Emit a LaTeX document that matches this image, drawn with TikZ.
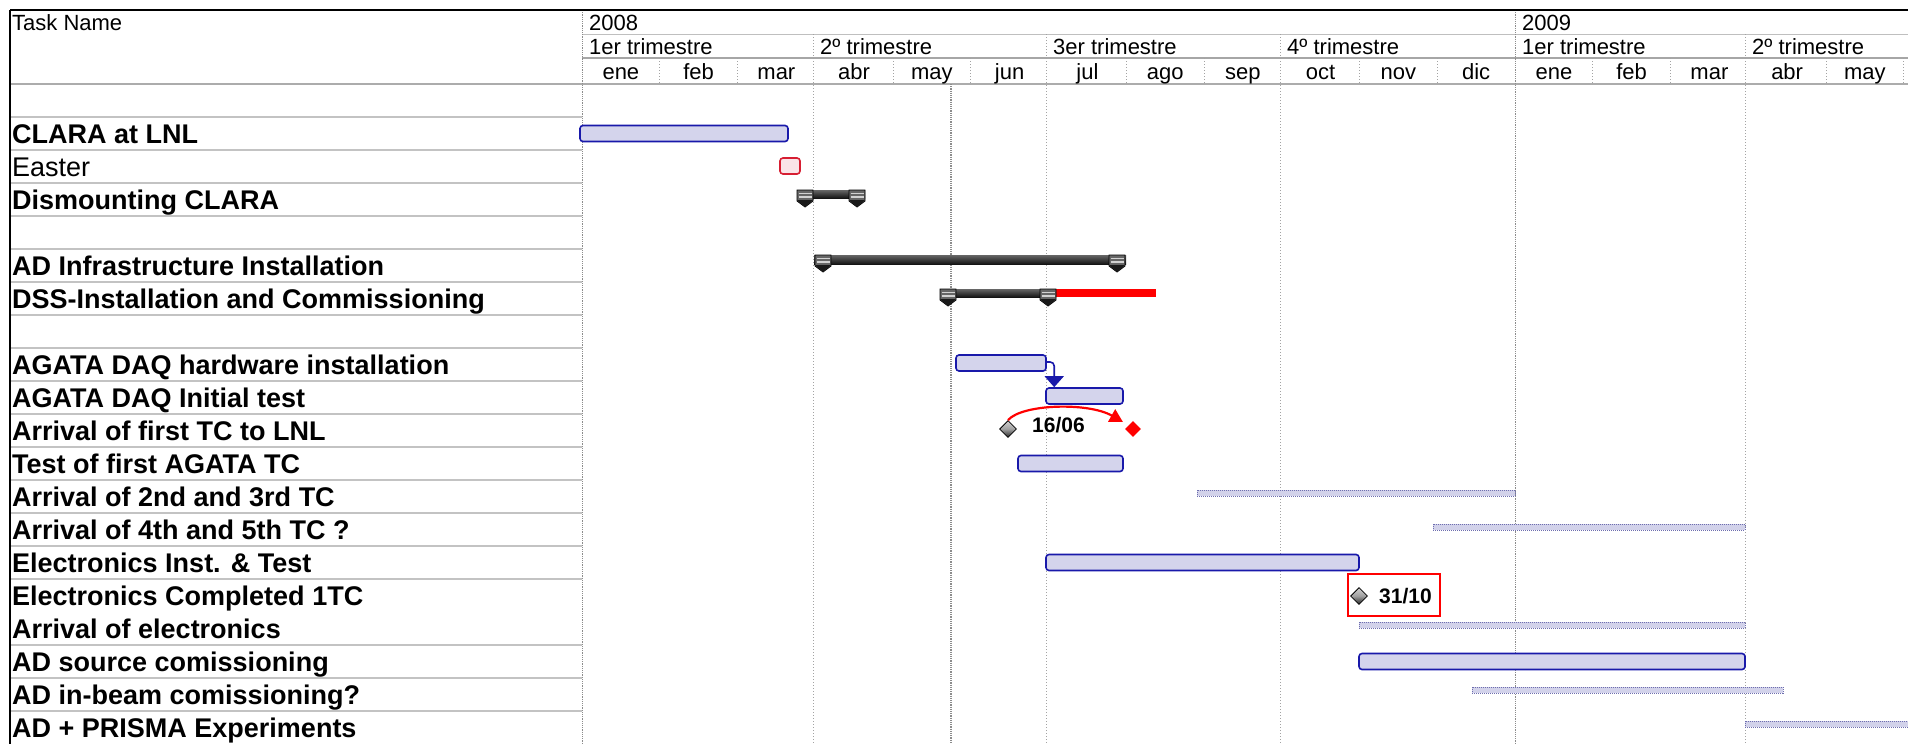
\documentclass[tikz,border=0pt]{standalone}
\usepackage{fontspec}
\setmainfont{Liberation Sans}
\usetikzlibrary{shapes.geometric,arrows.meta}
\definecolor{barblue}{RGB}{25,25,170}
\definecolor{barfill}{RGB}{212,212,236}
\definecolor{thinfill}{RGB}{210,210,234}
\definecolor{thindot}{RGB}{110,110,175}
\definecolor{gridgray}{RGB}{140,140,140}
\definecolor{sepgray}{RGB}{195,195,195}
\definecolor{redfill}{RGB}{250,228,232}
\definecolor{redline}{RGB}{215,30,50}
\begin{document}
\begin{tikzpicture}[x=1pt,y=-1pt,
  tname/.style={anchor=base west,inner sep=0pt,font=\fontsize{27}{30}\selectfont\bfseries},
  tnamereg/.style={anchor=base west,inner sep=0pt,font=\fontsize{27}{30}\selectfont},
  hdrl/.style={anchor=base west,inner sep=0pt,font=\fontsize{22}{24}\selectfont},
  hdrc/.style={anchor=base,inner sep=0pt,font=\fontsize{22}{24}\selectfont},
  griddense/.style={draw=gridgray,line width=1pt,dash pattern=on 1.2pt off 1pt},
  gridfine/.style={draw=gridgray!80,line width=0.7pt,dash pattern=on 1pt off 2pt},
  rowsep/.style={draw=sepgray,line width=1.2pt},
  taskbar/.style={draw=barblue,fill=barfill,line width=1.6pt,rounded corners=3pt,inner sep=0pt,minimum height=16pt},
  easterbar/.style={draw=redline,fill=redfill,line width=1.6pt,rounded corners=3pt,inner sep=0pt,minimum height=16pt,minimum width=20pt},
  thinbar/.style={fill=thinfill,draw=thindot,line width=0.8pt,dash pattern=on 1pt off 1pt,inner sep=0pt,minimum height=6pt},
  sumbar/.style={top color=black!60,bottom color=black!92,inner sep=0pt,minimum height=9pt},
  ms/.style={diamond,draw=black,line width=0.8pt,inner sep=0pt,minimum width=17pt,minimum height=17pt,top color=gray!35,bottom color=black!85,middle color=gray!75},
  msred/.style={diamond,fill=red,inner sep=0pt,minimum width=16pt,minimum height=16pt},
  mstext/.style={anchor=base west,inner sep=0pt,font=\fontsize{21}{24}\selectfont\bfseries},
  sumend/.pic={
    \filldraw[draw=black,line width=0.8pt,fill=black!60] (-8,0) -- (8,0) -- (8,11) -- (0,17) -- (-8,11) -- cycle;
    \fill[black!90] (-8,10) -- (8,10) -- (0,17) -- cycle;
    \draw[gray!35,line width=1.2pt] (-6.5,3.5) -- (6.5,3.5) (-6.5,7) -- (6.5,7);
  }
]
\useasboundingbox (0,0) rectangle (1908,744);
\fill[white] (0,0) rectangle (1908,744);

% ---------- header lines ----------
\draw[gray!50,line width=1pt] (582,34) -- (1908,34);
\draw[gray!70,line width=2pt] (582,58) -- (1908,58);
\draw[gray!65,line width=2.5pt] (10,84) -- (1908,84);

% ---------- row separators (task column) ----------
\foreach \k in {0,...,14,16,17,18}
  \draw[rowsep] (10,{117+33*\k}) -- (582,{117+33*\k});

% ---------- vertical grid ----------
\draw[griddense] (582,10) -- (582,744);
\draw[griddense] (1515,10) -- (1515,744);
\foreach \xx in {813,1046,1280,1745}
  \draw[gridfine] (\xx,34) -- (\xx,744);
\draw[griddense,line width=1.3pt] (951,84) -- (951,744);
\foreach \i in {1,2,4,5,7,8,10,11,13,14,16,17}
  \draw[gridfine] ({582+77.75*\i},58) -- ({582+77.75*\i},84);

% ---------- borders ----------
\draw[black,line width=2pt] (10,10) -- (1908,10);
\draw[black,line width=2pt] (10,10) -- (10,744);

% ---------- header texts ----------
\node[hdrl] (htask) at (12,30) {Task Name};
\node[hdrl] (y2008) at (589,30) {2008};
\node[hdrl] (y2009) at (1522,30) {2009};
\node[hdrl] (q1) at (589,54) {1er trimestre};
\node[hdrl] (q2) at (820,54) {2º trimestre};
\node[hdrl] (q3) at (1053,54) {3er trimestre};
\node[hdrl] (q4) at (1287,54) {4º trimestre};
\node[hdrl] (q5) at (1522,54) {1er trimestre};
\node[hdrl] (q6) at (1752,54) {2º trimestre};
\foreach \nm [count=\i from 0] in {ene,feb,mar,abr,may,jun,jul,ago,sep,oct,nov,dic,ene,feb,mar,abr,may}
  \node[hdrc] (mon\i) at ({582+77.75*(\i+0.5)},79) {\nm};

% ---------- task names ----------
\node[tname] (t0) at (12,143.5) {CLARA at LNL};
\node[tnamereg] (t1) at (12,176.5) {Easter};
\node[tname] (t2) at (12,209.5) {Dismounting CLARA};
\node[tname] (t4) at (12,275.5) {AD Infrastructure Installation};
\node[tname] (t5) at (12,308.5) {DSS-Installation and Commissioning};
\node[tname] (t7) at (12,374.5) {AGATA DAQ hardware installation};
\node[tname] (t8) at (12,407.5) {AGATA DAQ Initial test};
\node[tname] (t9) at (12,440.5) {Arrival of first TC to LNL};
\node[tname] (t10) at (12,473.5) {Test of first AGATA TC};
\node[tname] (t11) at (12,506.5) {Arrival of 2nd and 3rd TC};
\node[tname] (t12) at (12,539.5) {Arrival of 4th and 5th TC ?};
\node[tname] (t13) at (12,572.5) {Electronics Inst. \& Test};
\node[tname] (t14) at (12,605.5) {Electronics Completed 1TC};
\node[tname] (t15) at (12,638.5) {Arrival of electronics};
\node[tname] (t16) at (12,671.5) {AD source comissioning};
\node[tname] (t17) at (12,704.5) {AD in-beam comissioning?};
\node[tname] (t18) at (12,737.5) {AD + PRISMA Experiments};

% ---------- task bars ----------
\node[taskbar,minimum width=208pt] (clara) at (684,133.5) {};
\node[easterbar] (easter) at (790,166) {};
\node[taskbar,minimum width=90pt] (hw) at (1001,363) {};
\node[taskbar,minimum width=77pt] (init) at (1084.5,396) {};
\node[taskbar,minimum width=105pt] (test) at (1070.5,463.5) {};
\node[taskbar,minimum width=313pt] (elec) at (1202.5,562.5) {};
\node[taskbar,minimum width=386pt] (source) at (1552,661.5) {};

% ---------- thin bars ----------
\node[thinbar,minimum width=318pt] (tc23) at (1356,493) {};
\node[thinbar,minimum width=312pt] (tc45) at (1589,527) {};
\node[thinbar,minimum width=386pt] (arrel) at (1552,625) {};
\node[thinbar,minimum width=311pt] (inbeam) at (1627.5,690) {};
\node[thinbar,minimum width=165pt] (prisma) at (1827.5,724) {};

% ---------- summary bars ----------
\node[sumbar,minimum width=68pt,minimum height=8pt] (dism) at (831,194) {};
\node[sumbar,minimum width=312pt] (infra) at (970,259.5) {};
\node[fill=red,inner sep=0pt,minimum width=106pt,minimum height=8pt] (dssred) at (1103,293) {};
\node[sumbar,minimum width=116pt,minimum height=8pt] (dss) at (998,293) {};
\pic at (805,190) {sumend};
\pic at (857,190) {sumend};
\pic at (823,255) {sumend};
\pic at (1117,255) {sumend};
\pic at (948,289) {sumend};
\pic at (1048,289) {sumend};

% ---------- link hw -> init ----------
\draw[barblue,line width=1.6pt,rounded corners=4pt,-{Triangle[length=11pt,width=19pt]}]
  ([yshift=1pt]hw.east) -| ([xshift=9pt]init.north west);

% ---------- milestones ----------
\node[ms] (m1) at (1008,429) {};
\node[mstext] (l1606) at (1032,432) {16/06};
\node[msred] (mred) at (1133,429) {};
\draw[red,line width=2.2pt,-{Triangle[length=13pt,width=14pt]}]
  (m1.north) .. controls (1022,404) and (1088,402) .. ([xshift=-6pt,yshift=3pt]mred.north west);

\node[ms] (m2) at (1359,596) {};
\node[mstext] (l3110) at (1379,603) {31/10};
\node[draw=red,line width=2pt,inner sep=0pt,minimum width=92pt,minimum height=42pt] (hl) at (1394,595) {};
\end{tikzpicture}
\end{document}
